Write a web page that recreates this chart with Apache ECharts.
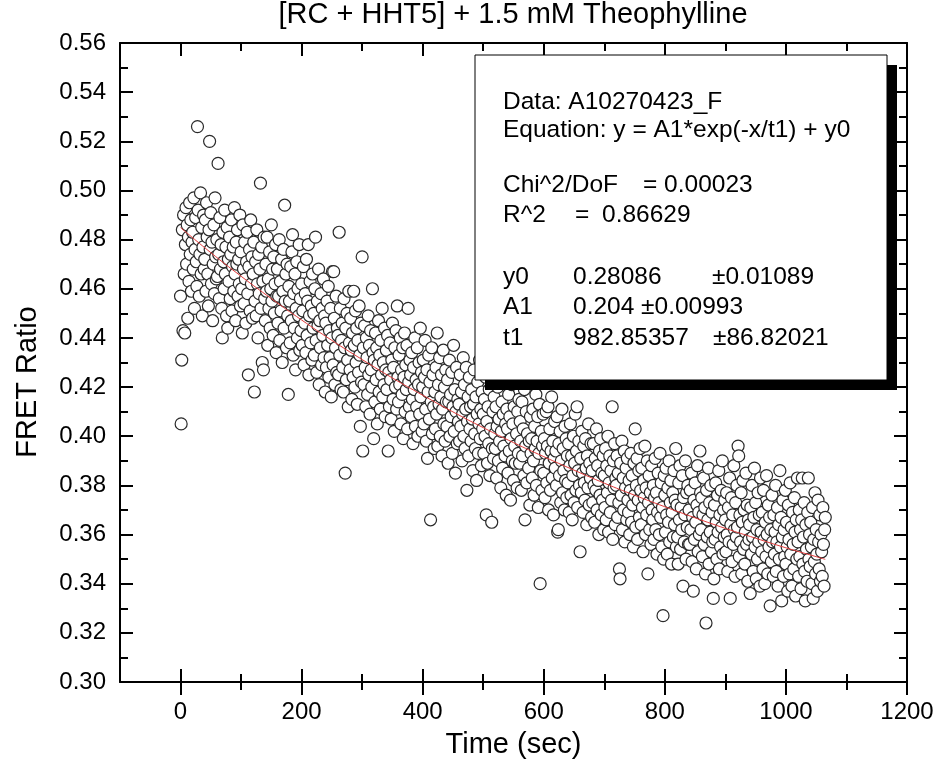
<!DOCTYPE html>
<html>
<head>
<meta charset="utf-8">
<script src="https://cdn.jsdelivr.net/npm/echarts@6/dist/echarts.min.js"></script>
<style>html,body{margin:0;padding:0;background:#fff}#chart{width:940px;height:780px}</style>
</head>
<body>
<div id="chart"></div>
<script>
const chartTitle = '[RC + HHT5] + 1.5 mM Theophylline';
const xAxisName = 'Time (sec)';
const yAxisName = 'FRET Ratio';
const xMajorTicks = [0, 200, 400, 600, 800, 1000, 1200];
const xMinorTicks = [100, 300, 500, 700, 900, 1100];

const timeSec = [
0,1,2,3,4,5,6,7,8,9,10,11,12,13,14,15,16,17,18,19,
20,21,22,23,24,25,26,27,28,29,30,31,32,33,34,35,36,37,38,39,
40,41,42,43,44,45,46,47,48,49,50,51,52,53,54,55,56,57,58,59,
60,61,62,63,64,65,66,67,68,69,70,71,72,73,74,75,76,77,78,79,
80,81,82,83,84,85,86,87,88,89,90,91,92,93,94,95,96,97,98,99,
100,101,102,103,104,105,106,107,108,109,110,111,112,113,114,115,116,117,118,119,
120,121,122,123,124,125,126,127,128,129,130,131,132,133,134,135,136,137,138,139,
140,141,142,143,144,145,146,147,148,149,150,151,152,153,154,155,156,157,158,159,
160,161,162,163,164,165,166,167,168,169,170,171,172,173,174,175,176,177,178,179,
180,181,182,183,184,185,186,187,188,189,190,191,192,193,194,195,196,197,198,199,
200,201,202,203,204,205,206,207,208,209,210,211,212,213,214,215,216,217,218,219,
220,221,222,223,224,225,226,227,228,229,230,231,232,233,234,235,236,237,238,239,
240,241,242,243,244,245,246,247,248,249,250,251,252,253,254,255,256,257,258,259,
260,261,262,263,264,265,266,267,268,269,270,271,272,273,274,275,276,277,278,279,
280,281,282,283,284,285,286,287,288,289,290,291,292,293,294,295,296,297,298,299,
300,301,302,303,304,305,306,307,308,309,310,311,312,313,314,315,316,317,318,319,
320,321,322,323,324,325,326,327,328,329,330,331,332,333,334,335,336,337,338,339,
340,341,342,343,344,345,346,347,348,349,350,351,352,353,354,355,356,357,358,359,
360,361,362,363,364,365,366,367,368,369,370,371,372,373,374,375,376,377,378,379,
380,381,382,383,384,385,386,387,388,389,390,391,392,393,394,395,396,397,398,399,
400,401,402,403,404,405,406,407,408,409,410,411,412,413,414,415,416,417,418,419,
420,421,422,423,424,425,426,427,428,429,430,431,432,433,434,435,436,437,438,439,
440,441,442,443,444,445,446,447,448,449,450,451,452,453,454,455,456,457,458,459,
460,461,462,463,464,465,466,467,468,469,470,471,472,473,474,475,476,477,478,479,
480,481,482,483,484,485,486,487,488,489,490,491,492,493,494,495,496,497,498,499,
500,501,502,503,504,505,506,507,508,509,510,511,512,513,514,515,516,517,518,519,
520,521,522,523,524,525,526,527,528,529,530,531,532,533,534,535,536,537,538,539,
540,541,542,543,544,545,546,547,548,549,550,551,552,553,554,555,556,557,558,559,
560,561,562,563,564,565,566,567,568,569,570,571,572,573,574,575,576,577,578,579,
580,581,582,583,584,585,586,587,588,589,590,591,592,593,594,595,596,597,598,599,
600,601,602,603,604,605,606,607,608,609,610,611,612,613,614,615,616,617,618,619,
620,621,622,623,624,625,626,627,628,629,630,631,632,633,634,635,636,637,638,639,
640,641,642,643,644,645,646,647,648,649,650,651,652,653,654,655,656,657,658,659,
660,661,662,663,664,665,666,667,668,669,670,671,672,673,674,675,676,677,678,679,
680,681,682,683,684,685,686,687,688,689,690,691,692,693,694,695,696,697,698,699,
700,701,702,703,704,705,706,707,708,709,710,711,712,713,714,715,716,717,718,719,
720,721,722,723,724,725,726,727,728,729,730,731,732,733,734,735,736,737,738,739,
740,741,742,743,744,745,746,747,748,749,750,751,752,753,754,755,756,757,758,759,
760,761,762,763,764,765,766,767,768,769,770,771,772,773,774,775,776,777,778,779,
780,781,782,783,784,785,786,787,788,789,790,791,792,793,794,795,796,797,798,799,
800,801,802,803,804,805,806,807,808,809,810,811,812,813,814,815,816,817,818,819,
820,821,822,823,824,825,826,827,828,829,830,831,832,833,834,835,836,837,838,839,
840,841,842,843,844,845,846,847,848,849,850,851,852,853,854,855,856,857,858,859,
860,861,862,863,864,865,866,867,868,869,870,871,872,873,874,875,876,877,878,879,
880,881,882,883,884,885,886,887,888,889,890,891,892,893,894,895,896,897,898,899,
900,901,902,903,904,905,906,907,908,909,910,911,912,913,914,915,916,917,918,919,
920,921,922,923,924,925,926,927,928,929,930,931,932,933,934,935,936,937,938,939,
940,941,942,943,944,945,946,947,948,949,950,951,952,953,954,955,956,957,958,959,
960,961,962,963,964,965,966,967,968,969,970,971,972,973,974,975,976,977,978,979,
980,981,982,983,984,985,986,987,988,989,990,991,992,993,994,995,996,997,998,999,
1000,1001,1002,1003,1004,1005,1006,1007,1008,1009,1010,1011,1012,1013,1014,1015,1016,1017,1018,1019,
1020,1021,1022,1023,1024,1025,1026,1027,1028,1029,1030,1031,1032,1033,1034,1035,1036,1037,1038,1039,
1040,1041,1042,1043,1044,1045,1046,1047,1048,1049,1050,1051,1052,1053,1054,1055,1056,1057,1058,1059,
1060,1061,1062,1063,1064,1065
];

const fretRatio = [
0.457,0.405,0.431,0.484,0.443,0.490,0.466,0.442,0.478,0.493,0.470,0.486,0.448,0.481,0.463,0.495,0.474,0.488,0.459,0.479,
0.483,0.468,0.497,0.452,0.476,0.489,0.471,0.461,0.526,0.492,0.480,0.457,0.474,0.499,0.466,0.485,0.449,0.477,0.490,0.468,
0.472,0.488,0.459,0.495,0.481,0.466,0.453,0.484,0.520,0.476,0.491,0.462,0.479,0.447,0.470,0.486,0.458,0.497,0.473,0.464,
0.480,0.465,0.511,0.474,0.456,0.489,0.468,0.478,0.452,0.440,0.483,0.471,0.460,0.492,0.466,0.477,0.449,0.485,0.444,0.472,
0.463,0.481,0.456,0.474,0.488,0.451,0.469,0.477,0.459,0.493,0.466,0.447,0.479,0.470,0.484,0.457,0.472,0.462,0.490,0.453,
0.475,0.460,0.442,0.486,0.468,0.454,0.479,0.464,0.446,0.471,0.483,0.458,0.425,0.469,0.476,0.451,0.488,0.462,0.473,0.448,
0.466,0.479,0.418,0.455,0.471,0.449,0.484,0.462,0.440,0.474,0.458,0.468,0.503,0.452,0.477,0.430,0.463,0.427,0.481,0.456,
0.447,0.470,0.459,0.481,0.437,0.464,0.452,0.475,0.444,0.460,0.486,0.455,0.468,0.441,0.473,0.450,0.462,0.478,0.434,0.457,
0.468,0.446,0.457,0.480,0.439,0.463,0.451,0.472,0.430,0.459,0.476,0.444,0.494,0.455,0.466,0.436,0.470,0.449,0.417,0.461,
0.455,0.438,0.469,0.447,0.475,0.482,0.433,0.458,0.444,0.466,0.427,0.452,0.471,0.440,0.460,0.449,0.478,0.435,0.456,0.443,
0.462,0.437,0.451,0.469,0.429,0.446,0.458,0.434,0.472,0.441,0.455,0.478,0.425,0.449,0.463,0.438,0.453,0.431,0.466,0.444,
0.450,0.433,0.460,0.481,0.439,0.426,0.455,0.445,0.468,0.421,0.447,0.436,0.458,0.429,0.452,0.441,0.464,0.432,0.449,0.418,
0.446,0.428,0.455,0.437,0.461,0.424,0.443,0.432,0.452,0.416,0.440,0.467,0.429,0.467,0.448,0.421,0.436,0.457,0.426,0.444,
0.441,0.425,0.483,0.433,0.452,0.419,0.439,0.446,0.428,0.418,0.456,0.436,0.385,0.444,0.423,0.450,0.431,0.412,0.459,0.438,
0.427,0.448,0.435,0.415,0.442,0.424,0.459,0.437,0.420,0.451,0.430,0.444,0.413,0.439,0.426,0.453,0.433,0.404,0.446,0.422,
0.473,0.394,0.436,0.421,0.445,0.428,0.412,0.440,0.432,0.417,0.449,0.425,0.437,0.409,0.443,0.427,0.420,0.460,0.434,0.399,
0.431,0.414,0.442,0.423,0.436,0.405,0.429,0.447,0.418,0.433,0.411,0.439,0.425,0.452,0.416,0.430,0.421,0.444,0.408,0.427,
0.435,0.419,0.441,0.394,0.426,0.412,0.438,0.423,0.407,0.431,0.446,0.415,0.428,0.402,0.436,0.420,0.443,0.411,0.453,0.424,
0.414,0.433,0.421,0.440,0.405,0.427,0.417,0.436,0.399,0.424,0.442,0.410,0.429,0.419,0.437,0.403,0.452,0.422,0.412,0.431,
0.425,0.408,0.434,0.415,0.397,0.428,0.419,0.440,0.404,0.423,0.412,0.436,0.400,0.421,0.430,0.409,0.444,0.416,0.426,0.402,
0.420,0.431,0.405,0.424,0.439,0.411,0.398,0.427,0.391,0.418,0.433,0.407,0.422,0.366,0.414,0.436,0.401,0.425,0.412,0.395,
0.418,0.403,0.428,0.409,0.442,0.396,0.421,0.413,0.432,0.400,0.416,0.425,0.392,0.411,0.435,0.405,0.420,0.398,0.427,0.414,
0.404,0.423,0.389,0.414,0.431,0.400,0.417,0.408,0.426,0.393,0.412,0.437,0.402,0.419,0.385,0.410,0.428,0.397,0.415,0.406,
0.413,0.398,0.425,0.404,0.418,0.390,0.409,0.432,0.400,0.421,0.395,0.411,0.428,0.378,0.406,0.416,0.392,0.424,0.403,0.412,
0.398,0.419,0.407,0.386,0.413,0.427,0.401,0.395,0.416,0.382,0.409,0.422,0.393,0.405,0.431,0.399,0.411,0.388,0.418,0.403,
0.409,0.393,0.415,0.400,0.424,0.368,0.406,0.389,0.412,0.397,0.419,0.384,0.403,0.427,0.365,0.395,0.410,0.391,0.416,0.401,
0.395,0.412,0.383,0.404,0.420,0.390,0.407,0.398,0.425,0.379,0.402,0.414,0.387,0.409,0.396,0.430,0.392,0.405,0.376,0.411,
0.403,0.385,0.417,0.394,0.408,0.374,0.399,0.421,0.390,0.405,0.382,0.412,0.396,0.389,0.426,0.401,0.379,0.410,0.393,0.415,
0.389,0.406,0.398,0.378,0.414,0.392,0.403,0.384,0.419,0.366,0.396,0.410,0.381,0.401,0.423,0.387,0.398,0.372,0.408,0.393,
0.399,0.383,0.411,0.390,0.376,0.404,0.395,0.417,0.380,0.398,0.408,0.371,0.393,0.413,0.340,0.386,0.402,0.378,0.396,0.409,
0.385,0.399,0.375,0.393,0.410,0.381,0.396,0.412,0.370,0.389,0.403,0.378,0.394,0.416,0.383,0.398,0.368,0.391,0.406,0.387,
0.394,0.380,0.408,0.361,0.362,0.397,0.384,0.402,0.373,0.390,0.411,0.377,0.395,0.386,0.370,0.404,0.382,0.399,0.375,0.392,
0.381,0.397,0.369,0.388,0.405,0.376,0.392,0.366,0.384,0.400,0.373,0.389,0.409,0.378,0.394,0.412,0.371,0.386,0.398,0.380,
0.353,0.391,0.377,0.402,0.385,0.369,0.396,0.381,0.374,0.399,0.387,0.364,0.392,0.379,0.405,0.372,0.389,0.383,0.397,0.367,
0.386,0.373,0.397,0.380,0.365,0.391,0.378,0.403,0.370,0.388,0.382,0.360,0.394,0.376,0.399,0.368,0.385,0.374,0.392,0.362,
0.384,0.371,0.395,0.366,0.388,0.377,0.400,0.361,0.381,0.392,0.369,0.386,0.374,0.412,0.358,0.390,0.379,0.397,0.364,0.383,
0.380,0.392,0.367,0.385,0.373,0.346,0.342,0.389,0.376,0.398,0.362,0.383,0.370,0.394,0.357,0.379,0.387,0.366,0.391,0.374,
0.369,0.382,0.360,0.378,0.393,0.365,0.384,0.372,0.355,0.389,0.376,0.403,0.363,0.380,0.391,0.358,0.374,0.386,0.367,0.395,
0.378,0.364,0.387,0.371,0.353,0.382,0.375,0.396,0.360,0.379,0.368,0.390,0.344,0.373,0.384,0.362,0.377,0.356,0.388,0.370,
0.366,0.380,0.358,0.375,0.391,0.362,0.377,0.352,0.369,0.385,0.373,0.360,0.393,0.367,0.381,0.355,0.371,0.327,0.350,0.384,
0.376,0.361,0.387,0.368,0.352,0.379,0.365,0.390,0.357,0.373,0.382,0.348,0.369,0.377,0.359,0.386,0.364,0.374,0.395,0.355,
0.372,0.359,0.348,0.381,0.366,0.388,0.354,0.371,0.362,0.384,0.339,0.375,0.357,0.368,0.390,0.350,0.377,0.363,0.380,0.356,
0.370,0.356,0.378,0.362,0.385,0.349,0.367,0.337,0.374,0.358,0.381,0.365,0.346,0.372,0.388,0.353,0.369,0.360,0.394,0.377,
0.362,0.375,0.351,0.368,0.383,0.356,0.371,0.344,0.324,0.378,0.359,0.366,0.387,0.348,0.373,0.361,0.380,0.353,0.369,0.357,
0.334,0.342,0.372,0.358,0.381,0.365,0.350,0.376,0.361,0.386,0.346,0.368,0.355,0.378,0.363,0.390,0.352,0.370,0.359,0.374,
0.366,0.353,0.377,0.360,0.345,0.371,0.357,0.383,0.334,0.364,0.375,0.349,0.368,0.356,0.388,0.362,0.343,0.373,0.359,0.380,
0.363,0.396,0.392,0.351,0.368,0.357,0.377,0.344,0.365,0.382,0.354,0.370,0.348,0.361,0.385,0.356,0.372,0.341,0.366,0.358,
0.364,0.336,0.371,0.352,0.380,0.359,0.345,0.367,0.387,0.355,0.373,0.342,0.362,0.350,0.377,0.357,0.368,0.339,0.383,0.361,
0.353,0.369,0.346,0.378,0.358,0.340,0.365,0.351,0.384,0.360,0.344,0.372,0.355,0.367,0.331,0.362,0.349,0.376,0.357,0.343,
0.368,0.352,0.361,0.380,0.345,0.357,0.371,0.339,0.364,0.350,0.386,0.355,0.367,0.333,0.359,0.374,0.343,0.362,0.351,0.378,
0.348,0.365,0.355,0.337,0.372,0.358,0.344,0.381,0.352,0.363,0.339,0.369,0.356,0.346,0.375,0.361,0.335,0.366,0.350,0.383,
0.357,0.343,0.370,0.351,0.362,0.338,0.366,0.383,0.348,0.359,0.373,0.345,0.333,0.364,0.354,0.341,0.369,0.383,0.350,0.360,
0.347,0.365,0.355,0.340,0.371,0.334,0.358,0.349,0.377,0.344,0.362,0.352,0.337,0.374,0.357,0.346,0.368,0.341,0.360,0.353,
0.343,0.371,0.356,0.339,0.362,0.367
];

const fitTime = [0,50,100,150,200,250,300,350,400,450,500,550,600,650,700,750,800,850,900,950,1000,1050,1065];
const fitRatio = [0.4849,0.4747,0.4651,0.4560,0.4473,0.4390,0.4312,0.4237,0.4167,0.4099,0.4035,0.3974,0.3917,0.3862,0.3809,0.3760,0.3713,0.3668,0.3625,0.3585,0.3546,0.3510,0.3499];

const fitInfoRows = [
  ['Data: A10270423_F'],
  ['Equation: y = A1*exp(-x/t1) + y0'],
  ['Chi^2/DoF', '= 0.00023'],
  ['R^2', '=', '0.86629'],
  ['y0', '0.28086', '\u00b10.01089'],
  ['A1', '0.204 \u00b10.00993'],
  ['t1', '982.85357', '\u00b186.82021']
];

// ---- layout / styling ----
const FONT = '"Liberation Sans", Arial, Helvetica, sans-serif';
const rowY = [102, 130, 185, 215, 277, 307, 338];
const rowX = [[503], [503], [503, 643], [503, 575, 602], [503, 573, 712], [503, 573], [503, 573, 713]];

const chart = echarts.init(document.getElementById('chart'), null, { renderer: 'canvas' });

function xAx(position, inside, length, values, extra) {
  return Object.assign({
    type: 'value', position: position, min: -100, max: 1200,
    axisLine: { show: false, onZero: false },
    axisTick: { show: true, inside: inside, length: length, customValues: values, lineStyle: { color: '#000', width: 2 } },
    axisLabel: { show: false },
    splitLine: { show: false }
  }, extra || {});
}

const xAxes = [
  xAx('bottom', false, 13, xMajorTicks, {
    name: xAxisName, nameLocation: 'middle', nameGap: 48,
    nameTextStyle: { fontFamily: FONT, fontSize: 29, color: '#000' },
    axisLine: { show: true, onZero: false, lineStyle: { color: '#000', width: 2 } },
    axisLabel: { show: true, customValues: xMajorTicks, fontFamily: FONT, fontSize: 24, color: '#000', margin: 18,
      formatter: function (v) { return String(v); } }
  }),
  xAx('bottom', true, 13, xMajorTicks),
  xAx('bottom', false, 8, xMinorTicks),
  xAx('bottom', true, 8, xMinorTicks),
  xAx('top', true, 13, xMajorTicks, { axisLine: { show: true, onZero: false, lineStyle: { color: '#000', width: 2 } } }),
  xAx('top', true, 8, xMinorTicks)
];

function yAx(position, extra) {
  return Object.assign({
    type: 'value', position: position, min: 0.30, max: 0.56, interval: 0.02,
    axisLine: { show: true, onZero: false, lineStyle: { color: '#000', width: 2 } },
    axisTick: { show: true, inside: true, length: 13, lineStyle: { color: '#000', width: 2 } },
    minorTick: { show: true, splitNumber: 2, length: 8, lineStyle: { color: '#000', width: 2 } },
    axisLabel: { show: false },
    splitLine: { show: false },
    minorSplitLine: { show: false }
  }, extra || {});
}

const yAxes = [
  yAx('left', {
    name: yAxisName, nameLocation: 'middle', nameGap: 78, nameRotate: 90,
    nameTextStyle: { fontFamily: FONT, fontSize: 29, color: '#000', padding: [0, 39, 0, 0] },
    axisLabel: { show: true, fontFamily: FONT, fontSize: 24, color: '#000', margin: 14,
      formatter: function (v) { return v.toFixed(2); } }
  }),
  yAx('right')
];

const graphicEls = [
  { type: 'rect', z: 100, shape: { x: 485, y: 65, width: 412, height: 325 }, style: { fill: '#000' } },
  { type: 'rect', z: 101, shape: { x: 475, y: 55, width: 412, height: 325 }, style: { fill: '#fff', stroke: '#000', lineWidth: 1 } }
];
fitInfoRows.forEach(function (row, r) {
  row.forEach(function (txt, c) {
    graphicEls.push({
      type: 'text', z: 102, x: rowX[r][c], y: rowY[r],
      style: { text: txt, font: '24.5px ' + FONT, fill: '#000', textAlign: 'left', textVerticalAlign: 'middle', align: 'left', verticalAlign: 'middle' }
    });
  });
});

const option = {
  animation: false,
  backgroundColor: '#fff',
  title: {
    text: chartTitle, left: 513, top: 0, textAlign: 'center', padding: 0,
    textStyle: { fontFamily: FONT, fontSize: 29, fontWeight: 'normal', color: '#000' }
  },
  grid: { left: 120, right: 33, top: 43, bottom: 98, containLabel: false, outerBoundsMode: 'none' },
  xAxis: xAxes,
  yAxis: yAxes,
  series: [
    {
      type: 'scatter', name: 'FRET Ratio', xAxisIndex: 0, yAxisIndex: 0, z: 2,
      symbol: 'circle', symbolSize: 12,
      itemStyle: { color: '#fff', borderColor: '#2a2a2a', borderWidth: 1.2, opacity: 1 },
      emphasis: { disabled: true },
      data: timeSec.map(function (t, i) { return [t, fretRatio[i]]; })
    },
    {
      type: 'line', name: 'Fit', xAxisIndex: 0, yAxisIndex: 0, z: 3,
      showSymbol: false, symbol: 'none', smooth: true,
      lineStyle: { color: '#e23b3b', width: 1 },
      emphasis: { disabled: true },
      data: fitTime.map(function (t, i) { return [t, fitRatio[i]]; })
    }
  ],
  graphic: { elements: graphicEls }
};
chart.setOption(option);
</script>
</body>
</html>
